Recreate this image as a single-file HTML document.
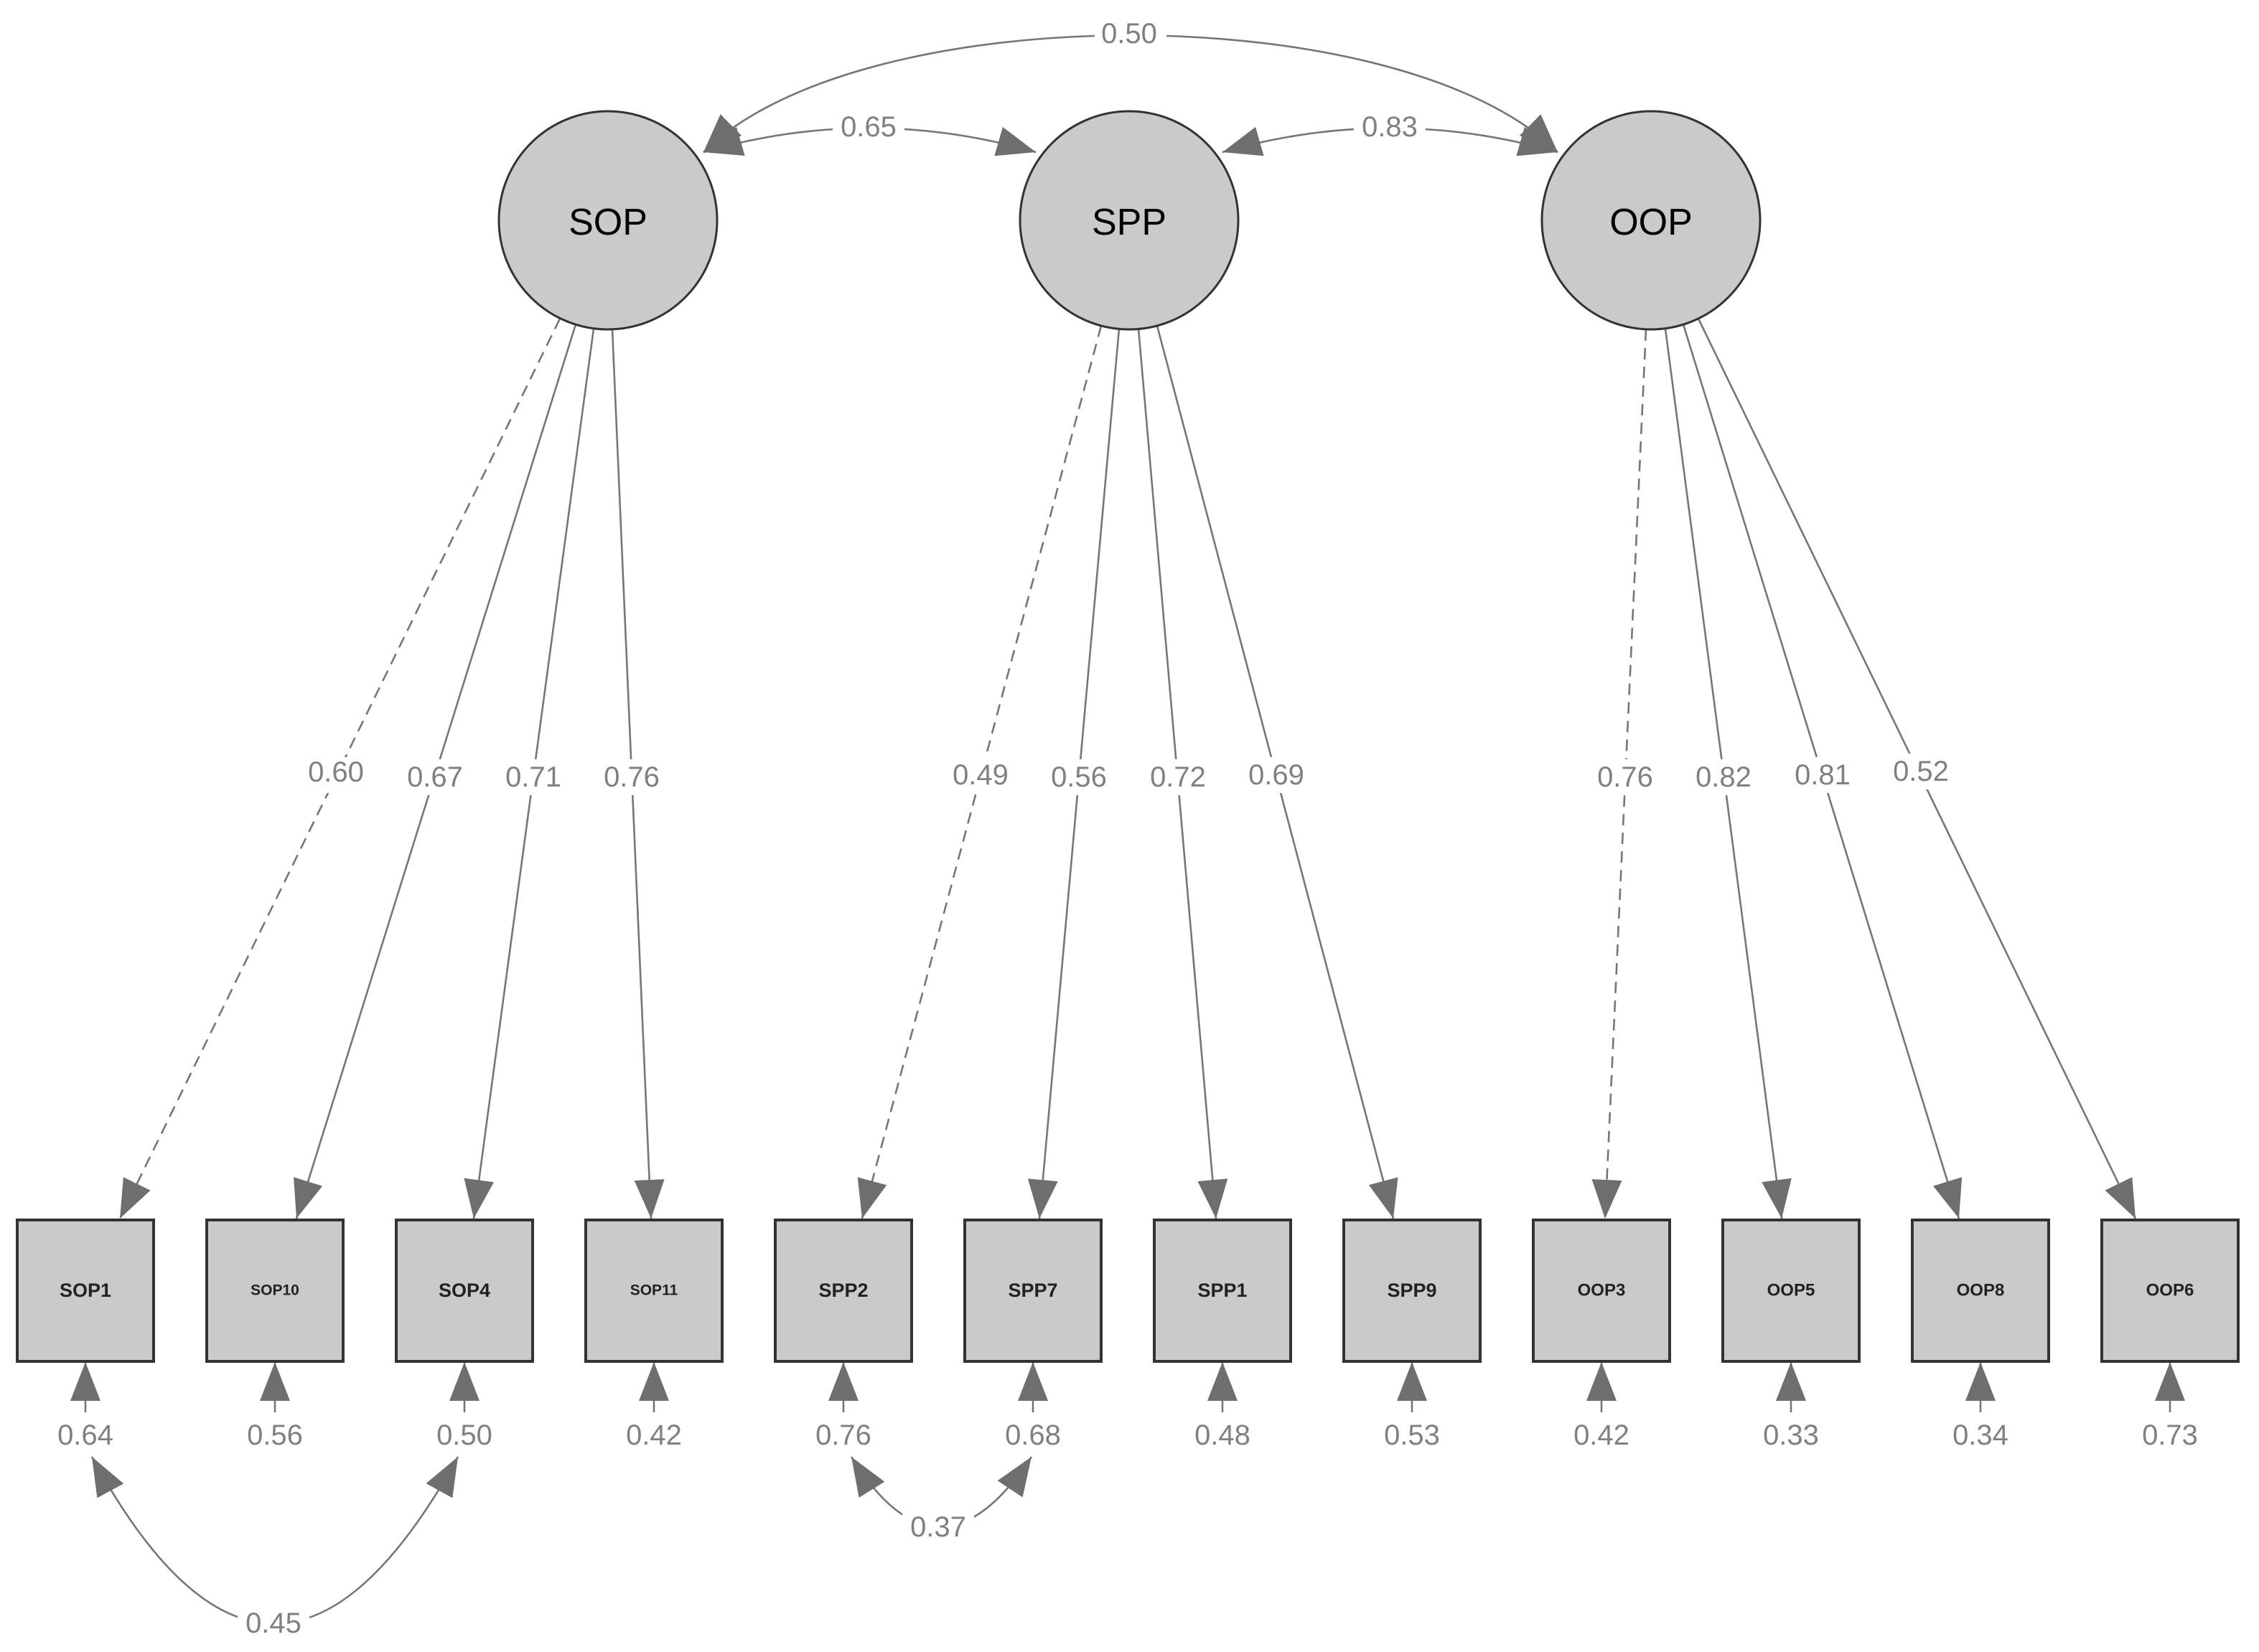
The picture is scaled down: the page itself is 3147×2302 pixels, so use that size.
<!DOCTYPE html>
<html><head><meta charset="utf-8"><style>
html,body{margin:0;padding:0;background:#fff;}
svg{display:block;}
.lbl{font-family:"Liberation Sans",sans-serif;font-size:40px;fill:#808080;text-anchor:middle;dominant-baseline:central;}
.bx{font-family:"Liberation Sans",sans-serif;font-size:27px;font-weight:bold;fill:#222;text-anchor:middle;dominant-baseline:central;}
.lat{font-family:"Liberation Sans",sans-serif;font-size:52px;fill:#000;text-anchor:middle;dominant-baseline:central;}
</style></head><body>
<svg width="3147" height="2302" viewBox="0 0 3147 2302" xmlns="http://www.w3.org/2000/svg">
<defs>
<marker id="ah" markerUnits="userSpaceOnUse" markerWidth="60" markerHeight="44" refX="54" refY="21" orient="auto">
<path d="M0,0 L54,21 L0,42 z" fill="#6e6e6e"/></marker>
<marker id="ah2" markerUnits="userSpaceOnUse" markerWidth="60" markerHeight="44" refX="54" refY="21" orient="auto-start-reverse">
<path d="M0,0 L54,21 L0,42 z" fill="#6e6e6e"/></marker>
</defs>
<g stroke="#767676" stroke-width="2.6" fill="none">
<!-- loadings -->
<line x1="780" y1="444" x2="167" y2="1698" stroke-dasharray="16,10" marker-end="url(#ah)"/>
<line x1="802" y1="452" x2="413" y2="1698" marker-end="url(#ah)"/>
<line x1="827" y1="458" x2="660" y2="1698" marker-end="url(#ah)"/>
<line x1="853" y1="459" x2="907" y2="1698" marker-end="url(#ah)"/>
<line x1="1534" y1="454" x2="1201" y2="1698" stroke-dasharray="16,10" marker-end="url(#ah)"/>
<line x1="1559" y1="458" x2="1448" y2="1698" marker-end="url(#ah)"/>
<line x1="1586" y1="458" x2="1694" y2="1698" marker-end="url(#ah)"/>
<line x1="1612" y1="454" x2="1941" y2="1698" marker-end="url(#ah)"/>
<line x1="2293" y1="459" x2="2236" y2="1698" stroke-dasharray="16,10" marker-end="url(#ah)"/>
<line x1="2320" y1="458" x2="2482" y2="1698" marker-end="url(#ah)"/>
<line x1="2345" y1="452" x2="2729" y2="1698" marker-end="url(#ah)"/>
<line x1="2366" y1="444" x2="2975" y2="1698" marker-end="url(#ah)"/>
<!-- covariances top -->
<path d="M980,212 C1200,-5 1950,-5 2170,212" marker-start="url(#ah2)" marker-end="url(#ah2)"/>
<path d="M980,212 Q1210,145 1443,212" marker-start="url(#ah2)" marker-end="url(#ah2)"/>
<path d="M1703,212 Q1936,145 2170,212" marker-start="url(#ah2)" marker-end="url(#ah2)"/>
<!-- residuals -->
<line x1="119" y1="1968" x2="119" y2="1898" marker-end="url(#ah)"/>
<line x1="383" y1="1968" x2="383" y2="1898" marker-end="url(#ah)"/>
<line x1="647" y1="1968" x2="647" y2="1898" marker-end="url(#ah)"/>
<line x1="911" y1="1968" x2="911" y2="1898" marker-end="url(#ah)"/>
<line x1="1175" y1="1968" x2="1175" y2="1898" marker-end="url(#ah)"/>
<line x1="1439" y1="1968" x2="1439" y2="1898" marker-end="url(#ah)"/>
<line x1="1703" y1="1968" x2="1703" y2="1898" marker-end="url(#ah)"/>
<line x1="1967" y1="1968" x2="1967" y2="1898" marker-end="url(#ah)"/>
<line x1="2231" y1="1968" x2="2231" y2="1898" marker-end="url(#ah)"/>
<line x1="2495" y1="1968" x2="2495" y2="1898" marker-end="url(#ah)"/>
<line x1="2759" y1="1968" x2="2759" y2="1898" marker-end="url(#ah)"/>
<line x1="3023" y1="1968" x2="3023" y2="1898" marker-end="url(#ah)"/>
<!-- residual covariances -->
<path d="M128,2030 Q381,2495 638,2030" marker-start="url(#ah2)" marker-end="url(#ah2)"/>
<path d="M1186,2030 Q1307,2225 1437,2030" marker-start="url(#ah2)" marker-end="url(#ah2)"/>
</g>
<!-- label backgrounds -->
<g fill="#fff">
<rect x="1525" y="22" width="100" height="50"/>
<rect x="1160" y="152" width="100" height="50"/>
<rect x="1886" y="152" width="100" height="50"/>
<rect x="331" y="2237" width="100" height="50"/>
<rect x="1257" y="2103" width="100" height="50"/>
<rect x="420" y="1055" width="96" height="50"/>
<rect x="558" y="1058" width="96" height="50"/>
<rect x="695" y="1058" width="96" height="50"/>
<rect x="832" y="1058" width="96" height="50"/>
<rect x="1318" y="1055" width="96" height="50"/>
<rect x="1455" y="1058" width="96" height="50"/>
<rect x="1593" y="1058" width="96" height="50"/>
<rect x="1730" y="1055" width="96" height="50"/>
<rect x="2216" y="1058" width="96" height="50"/>
<rect x="2353" y="1058" width="96" height="50"/>
<rect x="2491" y="1055" width="96" height="50"/>
<rect x="2628" y="1050" width="96" height="50"/>
</g>
<g class="lbl">
<text x="1573" y="47" class="lbl">0.50</text>
<text x="1210" y="177" class="lbl">0.65</text>
<text x="1936" y="177" class="lbl">0.83</text>
<text x="468" y="1076" class="lbl">0.60</text>
<text x="606" y="1083" class="lbl">0.67</text>
<text x="743" y="1083" class="lbl">0.71</text>
<text x="880" y="1083" class="lbl">0.76</text>
<text x="1366" y="1080" class="lbl">0.49</text>
<text x="1503" y="1083" class="lbl">0.56</text>
<text x="1641" y="1083" class="lbl">0.72</text>
<text x="1778" y="1080" class="lbl">0.69</text>
<text x="2264" y="1083" class="lbl">0.76</text>
<text x="2401" y="1083" class="lbl">0.82</text>
<text x="2539" y="1080" class="lbl">0.81</text>
<text x="2676" y="1075" class="lbl">0.52</text>
<text x="119" y="2000" class="lbl">0.64</text>
<text x="383" y="2000" class="lbl">0.56</text>
<text x="647" y="2000" class="lbl">0.50</text>
<text x="911" y="2000" class="lbl">0.42</text>
<text x="1175" y="2000" class="lbl">0.76</text>
<text x="1439" y="2000" class="lbl">0.68</text>
<text x="1703" y="2000" class="lbl">0.48</text>
<text x="1967" y="2000" class="lbl">0.53</text>
<text x="2231" y="2000" class="lbl">0.42</text>
<text x="2495" y="2000" class="lbl">0.33</text>
<text x="2759" y="2000" class="lbl">0.34</text>
<text x="3023" y="2000" class="lbl">0.73</text>
<text x="381" y="2262" class="lbl">0.45</text>
<text x="1307" y="2128" class="lbl">0.37</text>
</g>
<!-- latent circles -->
<g fill="#cacaca" stroke="#333" stroke-width="3">
<circle cx="847" cy="307" r="152"/>
<circle cx="1573" cy="307" r="152"/>
<circle cx="2300" cy="307" r="152"/>
</g>
<text x="847" y="310" class="lat">SOP</text>
<text x="1573" y="310" class="lat">SPP</text>
<text x="2300" y="310" class="lat">OOP</text>
<!-- boxes -->
<g fill="#cacaca" stroke="#333" stroke-width="4">
<rect x="24" y="1700" width="190" height="197"/>
<rect x="288" y="1700" width="190" height="197"/>
<rect x="552" y="1700" width="190" height="197"/>
<rect x="816" y="1700" width="190" height="197"/>
<rect x="1080" y="1700" width="190" height="197"/>
<rect x="1344" y="1700" width="190" height="197"/>
<rect x="1608" y="1700" width="190" height="197"/>
<rect x="1872" y="1700" width="190" height="197"/>
<rect x="2136" y="1700" width="190" height="197"/>
<rect x="2400" y="1700" width="190" height="197"/>
<rect x="2664" y="1700" width="190" height="197"/>
<rect x="2928" y="1700" width="190" height="197"/>
</g>
<text x="119" y="1798" class="bx">SOP1</text>
<text x="383" y="1798" class="bx" style="font-size:21px">SOP10</text>
<text x="647" y="1798" class="bx">SOP4</text>
<text x="911" y="1798" class="bx" style="font-size:21px">SOP11</text>
<text x="1175" y="1798" class="bx">SPP2</text>
<text x="1439" y="1798" class="bx">SPP7</text>
<text x="1703" y="1798" class="bx">SPP1</text>
<text x="1967" y="1798" class="bx">SPP9</text>
<text x="2231" y="1798" class="bx" style="font-size:24px">OOP3</text>
<text x="2495" y="1798" class="bx" style="font-size:24px">OOP5</text>
<text x="2759" y="1798" class="bx" style="font-size:24px">OOP8</text>
<text x="3023" y="1798" class="bx" style="font-size:24px">OOP6</text>
</svg>
</body></html>
